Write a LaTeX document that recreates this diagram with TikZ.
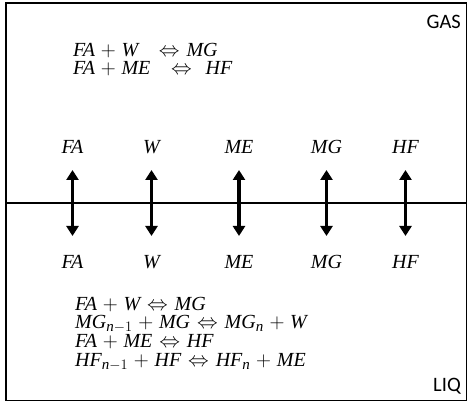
\documentclass[tikz,border=0pt]{standalone}
\usepackage{amsmath}
\usepackage{fontspec}
\newfontfamily\labfont{Carlito}
\newfontfamily\eqfont{Liberation Serif}
\newcommand\tv[1]{\text{\eqfont\itshape #1}}
\newcommand\eqsetup{\fontsize{20}{18.8}\selectfont\lineskiplimit=-30pt\relax\lineskip=0pt\relax\medmuskip=5mu plus 2mu\relax\thickmuskip=6mu plus 3mu\relax}
\DeclareMathSizes{20}{20}{15}{12}
\usetikzlibrary{arrows.meta}
\begin{document}
\begin{tikzpicture}[x=1pt,y=-1pt,
  eq/.style={anchor=base west,inner sep=0pt,align=left,font=\eqsetup},
  sp/.style={anchor=base,inner sep=0pt,font=\eqfont\itshape\fontsize{20}{20}\selectfont},
  phase/.style={anchor=base east,inner sep=0pt,font=\labfont\fontsize{20.5}{22}\selectfont},
  xfer/.style={line width=3.4pt,{Triangle[length=10pt,width=12pt]}-{Triangle[length=10pt,width=12pt]}}]
\useasboundingbox (0,0) rectangle (468,403);
\draw[line width=1.4pt] (6,3) rectangle (466.5,400.5);
\coordinate (iL) at (6,203.3);
\coordinate (iR) at (466.5,203.3);
\draw[line width=1.6pt] (iL) -- (iR);
\node[phase] (gas) at (461,29) {GAS};
\node[phase] (liq) at (461,391) {LIQ};
\node[eq] (geq) at (73,75) {$\tv{FA}+\tv{W}\;\;\Leftrightarrow \tv{MG}$\\
  $\tv{FA}+\tv{ME}\;\;\Leftrightarrow\;\tv{HF}$};
\node[eq] (leq) at (75,366.4) {$\tv{FA}+\tv{W}\Leftrightarrow \tv{MG}$\\
  $\tv{MG}_{\tv{n}-1}+\tv{MG}\Leftrightarrow \tv{MG}_{\tv{n}}+\tv{W}$\\
  $\tv{FA}+\tv{ME}\Leftrightarrow \tv{HF}$\\
  $\tv{HF}_{\tv{n}-1}+\tv{HF}\Leftrightarrow \tv{HF}_{\tv{n}}+\tv{ME}$};
\foreach \n/\x/\t in {fa/72.5/FA,w/151.5/W,me/239/ME,mg/326.5/MG,hf/405.5/HF}{
  \node[sp] (g\n) at (\x,154) {\t};
  \node[sp] (l\n) at (\x,268) {\t};
  \coordinate (t\n) at (\x,170);
  \coordinate (b\n) at (\x,236);
  \draw[xfer] (t\n) -- (b\n);
}
\end{tikzpicture}
\end{document}
